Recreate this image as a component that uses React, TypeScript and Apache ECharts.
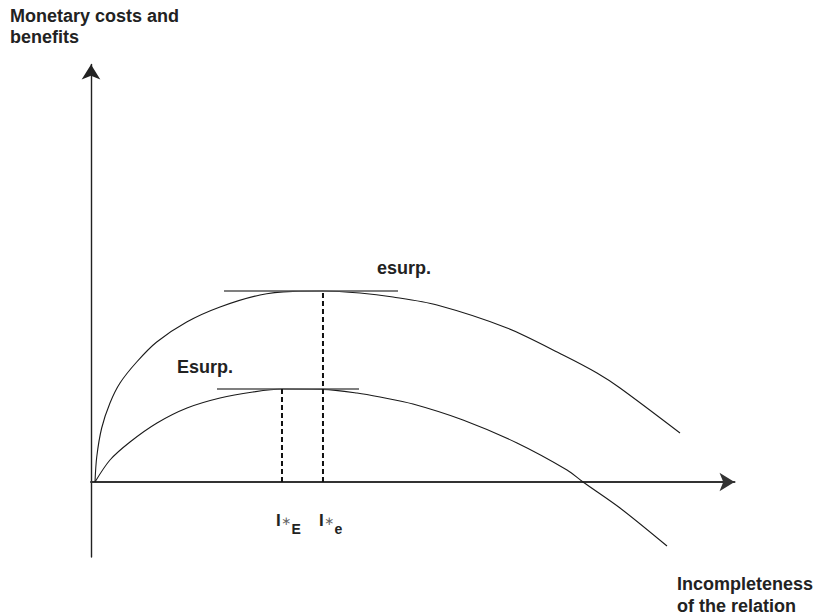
import React, { useEffect, useRef } from "react";
import * as echarts from "echarts";

// Upper curve ("esurp.") — x and y in chart units
const upperX = [0.62, 0.89, 1.66, 2.95, 4.51, 7.1, 10.21, 14.87, 20.05, 26.26, 31.39, 36.05, 41.8, 46.93, 53.77, 64.65, 73.35, 78.63, 82.21, 91.53];
const upperY = [0, 12.5, 27, 39.5, 49.5, 60, 70, 80, 87.5, 93.5, 95.3, 95.5, 94.5, 92.5, 88.5, 77, 63.5, 54.5, 47, 24.5];

// Lower curve ("Esurp.")
const lowerX = [0.62, 2.95, 6.06, 10.26, 14.92, 20.05, 25.17, 29.68, 36.05, 41.34, 44.91, 50.04, 57.81, 66.2, 73.97, 76.46, 82.21, 89.51];
const lowerY = [0, 11, 20, 29.5, 37, 42, 45, 46.5, 46.3, 44.5, 42.5, 39, 31, 19.5, 6, 0, -13, -32];

// Optimum points
const optUpperX = 36.05;
const optUpperY = 95.5;
const optLowerX = 29.68;
const optLowerY = 46.5;

// Tangent segments [xStart, xEnd]
const tangentUpper = [20.67, 47.71];
const tangentLower = [19.58, 41.65];

// Axis ranges
const xRange = [0, 100];
const yRange = [-37.5, 208.75];

const yTitle = ["Monetary costs and", "benefits"];
const xTitle = ["Incompleteness", "of the relation"];
const upperLabel = "esurp.";
const lowerLabel = "Esurp.";

const FONT = '"Liberation Sans", Arial, Helvetica, sans-serif';

export default function App() {
  const ref = useRef<HTMLDivElement>(null);
  useEffect(() => {
    if (!ref.current) return;
    const chart = echarts.init(ref.current, undefined, { renderer: "svg" });
    const pairs = (xs: number[], ys: number[]) => xs.map((x, i) => [x, ys[i]]);
    const curveStyle = { color: "#1a1a1a", width: 1.1 };
    const boldText = (text: string, x: number, y: number, size = 18) => ({
      type: "text",
      x,
      y,
      silent: true,
      style: {
        text,
        fill: "#222",
        font: `bold ${size}px ${FONT}`,
        align: "left",
        verticalAlign: "middle",
      },
    });
    const optLabel = (x: number, sub: string) => ({
      type: "group",
      x,
      y: 0,
      children: [
        boldText("I", 0, 520.7, 17),
        {
          type: "text",
          x: 5,
          y: 521,
          silent: true,
          style: {
            text: "\u2217",
            fill: "#666",
            font: `12px "DejaVu Sans", sans-serif`,
            align: "left",
            verticalAlign: "middle",
          },
        },
        boldText(sub, 15.5, 528.5, 14),
      ],
    });
    chart.setOption({
      animation: false,
      grid: { left: 91, right: 86.5, top: 64.5, bottom: 59 },
      xAxis: {
        type: "value",
        min: xRange[0],
        max: xRange[1],
        axisLine: {
          onZero: true,
          symbol: ["none", "arrow"],
          symbolSize: [14, 15],
          lineStyle: { color: "#333", width: 2 },
        },
        axisTick: { show: false },
        axisLabel: { show: false },
        splitLine: { show: false },
      },
      yAxis: {
        type: "value",
        min: yRange[0],
        max: yRange[1],
        axisLine: {
          show: true,
          onZero: true,
          symbol: ["none", "arrow"],
          symbolSize: [14, 15],
          lineStyle: { color: "#222", width: 1.4 },
        },
        axisTick: { show: false },
        axisLabel: { show: false },
        splitLine: { show: false },
      },
      series: [
        {
          type: "line",
          data: pairs(upperX, upperY),
          smooth: 0.3,
          showSymbol: false,
          silent: true,
          lineStyle: curveStyle,
        },
        {
          type: "line",
          data: pairs(lowerX, lowerY),
          smooth: 0.3,
          showSymbol: false,
          silent: true,
          lineStyle: curveStyle,
        },
        {
          type: "line",
          data: [[tangentUpper[0], optUpperY], [tangentUpper[1], optUpperY]],
          showSymbol: false,
          silent: true,
          lineStyle: { color: "#555", width: 1.6 },
        },
        {
          type: "line",
          data: [[tangentLower[0], optLowerY], [tangentLower[1], optLowerY]],
          showSymbol: false,
          silent: true,
          lineStyle: { color: "#555", width: 1.6 },
        },
        {
          type: "line",
          data: [[optUpperX, 0], [optUpperX, optUpperY]],
          showSymbol: false,
          silent: true,
          lineStyle: { color: "#111", width: 2, type: [5, 3] },
        },
        {
          type: "line",
          data: [[optLowerX, 0], [optLowerX, optLowerY]],
          showSymbol: false,
          silent: true,
          lineStyle: { color: "#111", width: 2, type: [5, 3] },
        },
      ],
      graphic: [
        boldText(yTitle[0], 10, 15.7),
        boldText(yTitle[1], 10, 36.7),
        boldText(xTitle[0], 677, 583.7),
        boldText(xTitle[1], 677, 605.7),
        boldText(upperLabel, 377, 267.7),
        boldText(lowerLabel, 177, 366.7),
        optLabel(276, "E"),
        optLabel(319, "e"),
      ],
    });
    return () => chart.dispose();
  }, []);
  return (
    <div
      ref={ref}
      style={{ position: "fixed", left: 0, top: 0, width: 821, height: 616, background: "#fff" }}
    />
  );
}
